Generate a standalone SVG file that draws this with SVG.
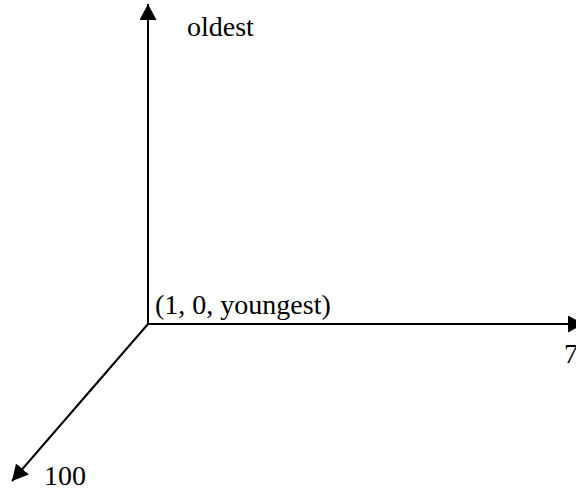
<svg xmlns="http://www.w3.org/2000/svg" width="576" height="496" viewBox="0 0 576 496">
<style>
.ax{stroke:#000;stroke-width:2;fill:none}
.lb{font-family:"Liberation Serif","Times New Roman",serif;font-size:28px;fill:#000}
</style>
<defs>
<marker id="ah" viewBox="0 0 16 17" refX="16" refY="8.5" markerWidth="16" markerHeight="17" orient="auto" markerUnits="userSpaceOnUse">
<path d="M0,0 L16,8.5 L0,17 z" fill="#000"/>
</marker>
</defs>
<rect width="576" height="496" fill="#fff"/>
<g id="connectors">
<line class="ax" x1="148" y1="324" x2="148" y2="4" marker-end="url(#ah)"/>
<line class="ax" x1="148" y1="324" x2="584" y2="324" marker-end="url(#ah)"/>
<line class="ax" x1="148" y1="324" x2="12" y2="481" marker-end="url(#ah)"/>
</g>
<g id="labels">
<text class="lb" x="187" y="36">oldest</text>
<text class="lb" x="155" y="314">(1, 0, youngest)</text>
<text class="lb" x="564" y="363">7</text>
<text class="lb" x="44" y="485">100</text>
</g>
</svg>
